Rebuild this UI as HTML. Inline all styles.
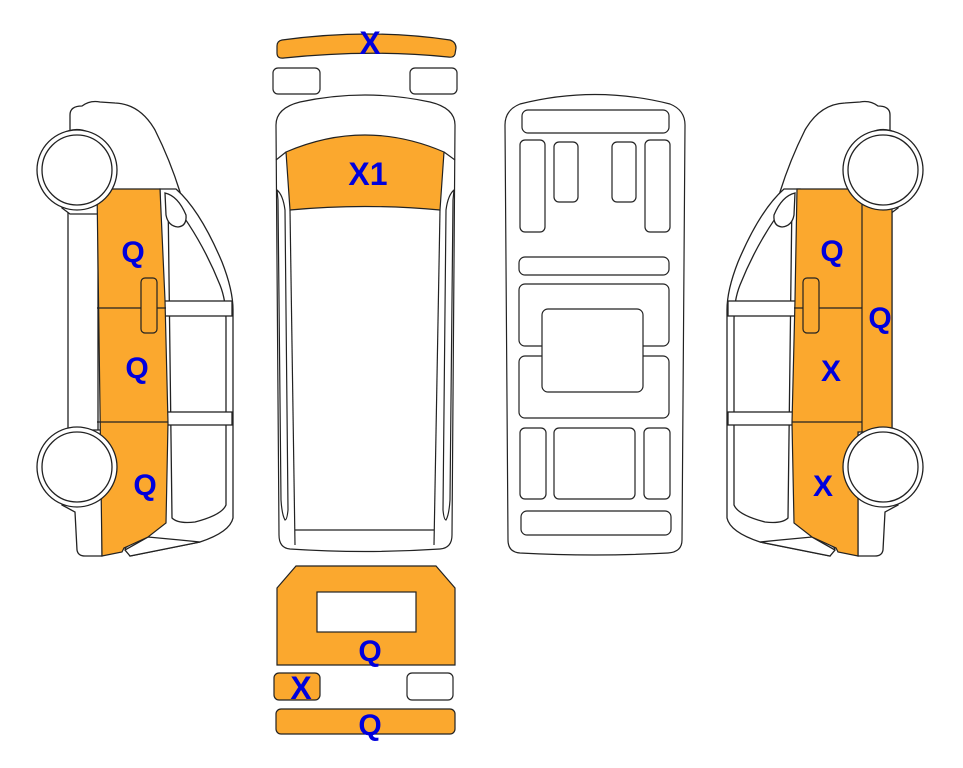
<!DOCTYPE html>
<html><head><style>
html,body{margin:0;padding:0;background:#fff;width:963px;height:768px;overflow:hidden}
svg{display:block}
text{font-family:"Liberation Sans",sans-serif;font-weight:bold;fill:#0000dd;text-anchor:middle}
</style></head><body>
<svg width="963" height="768" viewBox="0 0 963 768" xmlns="http://www.w3.org/2000/svg">
<defs>
<g id="side" stroke="#222" stroke-width="1.3" fill="#fff">
  <path d="M70,200 L70,115 Q70,106 82,106 Q90,100 100,102 L115,103 Q140,104 155,130 Q170,160 180,192 L100,192 Z"/>
  <rect x="68" y="200" width="30" height="235"/>
  <path d="M62,208 L70,214 L100,214 L100,140 Q80,122 60,135 Z"/>
  <path d="M62,505 L75,512 L77,550 Q78,556 85,556 L102,556 L102,430 L70,430 Z"/>
  <path d="M160,189 L176,189 Q200,210 222,262 Q233,290 233,310 L233,518 Q230,532 200,542 L130,556 L125,548 L165,523 Z"/>
  <path d="M168,196 Q200,235 220,285 Q226,300 226,320 L226,505 Q222,515 195,522 Q178,524 172,518 Z"/>
  <path d="M165,193 Q178,196 186,215 Q187,226 178,227 Q168,226 166,215 Z"/>
  <rect x="164" y="301" width="68" height="15"/>
  <rect x="166" y="412" width="66" height="13"/>
  <path d="M125,550 L148,537 L180,540 L200,542 L130,556 Z"/>
</g>
<g id="wheels" stroke="#222" stroke-width="1.3" fill="#fff">
  <circle cx="77" cy="170" r="40"/>
  <circle cx="77" cy="170" r="35"/>
  <circle cx="77" cy="467" r="40"/>
  <circle cx="77" cy="467" r="35"/>
</g>
</defs>

<!-- LEFT SIDE VIEW -->
<use href="#side"/>
<path d="M97,189 L160,189 L165,300 L168,423 L166,523 L148,537 L124,548 L122,552 L102,556 Z" fill="#fba82e" stroke="#222" stroke-width="1.2"/>
<line x1="97" y1="308" x2="166" y2="308" stroke="#222" stroke-width="1.2"/>
<line x1="97" y1="422" x2="168" y2="422" stroke="#222" stroke-width="1.2"/>
<rect x="141" y="278" width="16" height="55" rx="4" fill="#fba82e" stroke="#222" stroke-width="1.2"/>
<use href="#wheels"/>
<text x="133" y="262" font-size="30">Q</text>
<text x="137" y="378" font-size="30">Q</text>
<text x="145" y="495" font-size="30">Q</text>

<!-- RIGHT SIDE VIEW (mirror) -->
<g transform="translate(960,0) scale(-1,1)"><use href="#side"/>
<path d="M68,189 L163,189 L165,300 L168,423 L166,523 L148,537 L124,548 L122,552 L102,556 L102,432 L68,432 Z" fill="#fba82e" stroke="#222" stroke-width="1.2"/>
<line x1="98" y1="189" x2="98" y2="432" stroke="#222" stroke-width="1.2"/>
<line x1="98" y1="308" x2="166" y2="308" stroke="#222" stroke-width="1.2"/>
<line x1="98" y1="422" x2="168" y2="422" stroke="#222" stroke-width="1.2"/>
<rect x="141" y="278" width="16" height="55" rx="4" fill="#fba82e" stroke="#222" stroke-width="1.2"/>
<use href="#wheels"/>
</g>
<text x="832" y="261" font-size="30">Q</text>
<text x="880" y="328" font-size="30">Q</text>
<text x="831" y="381" font-size="30">X</text>
<text x="823" y="496" font-size="30">X</text>

<!-- TOP: front bumper & lights -->
<path d="M282,40 Q370,28 450,40 Q456,42 456,48 L455,54 Q454,58 448,57 Q370,49 284,58 Q277,59 277,53 L277,46 Q277,41 282,40 Z" fill="#fba82e" stroke="#222" stroke-width="1.2"/>
<text x="370" y="54" font-size="32">X</text>
<rect x="273" y="68" width="47" height="26" rx="5" fill="#fff" stroke="#222" stroke-width="1.2"/>
<rect x="410" y="68" width="47" height="26" rx="5" fill="#fff" stroke="#222" stroke-width="1.2"/>

<!-- TOP VIEW VAN -->
<g stroke="#222" stroke-width="1.2" fill="#fff">
<path d="M276,125 Q276,108 300,102 Q365,88 430,102 Q455,108 455,125 L452,535 Q452,548 440,549 Q365,554 290,549 Q279,548 279,535 Z"/>
<path d="M286,152 Q365,118 444,152 L440,210 Q365,203 290,210 Z" fill="#fba82e"/>
<line x1="276" y1="160" x2="286" y2="152"/>
<line x1="455" y1="160" x2="444" y2="152"/>
<path d="M290,210 L295,545"/>
<path d="M440,210 L434,545"/>
<line x1="295" y1="530" x2="434" y2="530"/>
<path d="M277,190 Q283,195 285,210 L288,510 Q287,520 285,520 Q282,515 281,500 L278,200 Z"/>
<path d="M454,190 Q448,195 446,210 L443,510 Q444,520 446,520 Q449,515 450,500 L453,200 Z"/>
</g>
<text x="368" y="185" font-size="32">X1</text>

<!-- UNDERSIDE -->
<g stroke="#222" stroke-width="1.2" fill="#fff">
<path d="M505,125 Q505,110 520,104 Q595,85 670,104 Q685,110 685,125 L682,540 Q682,552 668,553 Q595,557 520,553 Q508,552 508,540 Z"/>
<rect x="522" y="110" width="147" height="23" rx="6"/>
<rect x="520" y="140" width="25" height="92" rx="5"/>
<rect x="554" y="142" width="24" height="60" rx="5"/>
<rect x="612" y="142" width="24" height="60" rx="5"/>
<rect x="645" y="140" width="25" height="92" rx="5"/>
<rect x="519" y="257" width="150" height="18" rx="6"/>
<rect x="519" y="284" width="150" height="62" rx="6"/>
<rect x="519" y="356" width="150" height="62" rx="6"/>
<rect x="542" y="309" width="101" height="83" rx="6"/>
<rect x="520" y="428" width="26" height="71" rx="5"/>
<rect x="554" y="428" width="81" height="71" rx="5"/>
<rect x="644" y="428" width="26" height="71" rx="5"/>
<rect x="521" y="511" width="150" height="24" rx="6"/>
</g>

<!-- REAR VIEW -->
<g stroke="#222" stroke-width="1.2">
<path d="M277,588 L296,566 L436,566 L455,588 L455,665 L277,665 Z" fill="#fba82e"/>
<rect x="317" y="592" width="99" height="40" fill="#fff"/>
<rect x="274" y="673" width="46" height="27" rx="5" fill="#fba82e"/>
<rect x="407" y="673" width="46" height="27" rx="5" fill="#fff"/>
<rect x="276" y="709" width="179" height="25" rx="5" fill="#fba82e"/>
</g>
<text x="370" y="661" font-size="30">Q</text>
<text x="301" y="699" font-size="32">X</text>
<text x="370" y="735" font-size="30">Q</text>
</svg>
</body></html>
